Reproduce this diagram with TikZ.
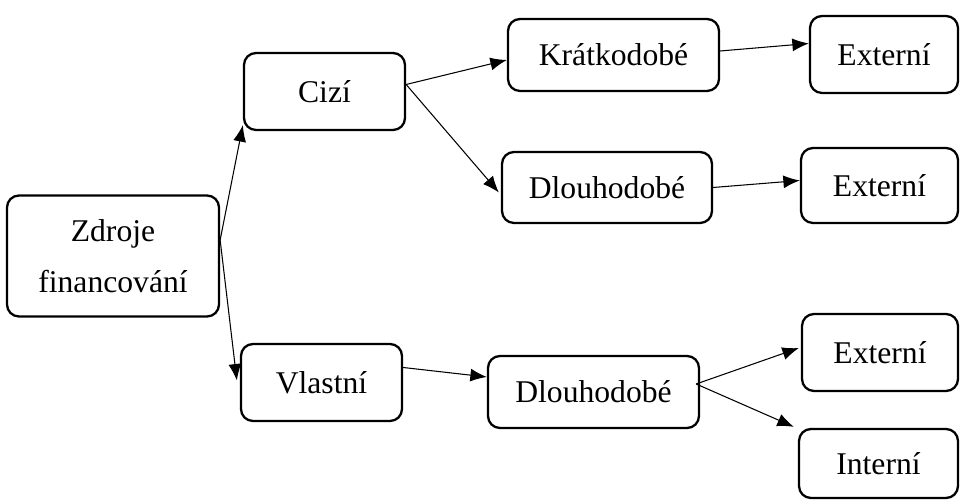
\documentclass[tikz,border=0pt]{standalone}
\usepackage{fontspec}
\setmainfont{Liberation Serif}
\usetikzlibrary{arrows.meta}

\begin{document}
\begin{tikzpicture}[->,>={Latex[length=0.33cm,width=0.26cm]},line width=0.6pt,
    font=\fontsize{18}{29}\selectfont,
    box/.style={draw,line width=1.3pt,rounded corners=0.24cm,align=center,inner sep=0pt}]
            \useasboundingbox (0,0) rectangle (19.2,10);
            \node[box,minimum width=4.24cm,minimum height=2.42cm] (zdroje) at (2.26,4.88) {Zdroje\\financování};
            \node[box,minimum width=3.22cm,minimum height=1.54cm] (cizi) at (6.49,8.17) {Cizí};
            \node[box,minimum width=3.22cm,minimum height=1.54cm] (vlastni) at (6.43,2.35) {Vlastní};
            \node[box,minimum width=4.22cm,minimum height=1.44cm] (kratko) at (12.27,8.9) {Krátkodobé};
            \node[box,minimum width=4.2cm,minimum height=1.42cm] (dlouhoA) at (12.14,6.25) {Dlouhodobé};
            \node[box,minimum width=4.22cm,minimum height=1.44cm] (dlouhoB) at (11.87,2.16) {Dlouhodobé};
            \node[box,minimum width=2.96cm,minimum height=1.54cm] (extA) at (17.68,8.91) {Externí};
            \node[box,minimum width=3.14cm,minimum height=1.5cm] (extB) at (17.59,6.29) {Externí};
            \node[box,minimum width=3.12cm,minimum height=1.54cm] (extC) at (17.6,2.95) {Externí};
            \node[box,minimum width=3.18cm,minimum height=1.38cm] (intern) at (17.57,0.73) {Interní};
            \draw ([yshift=0.32cm]zdroje.east)--([yshift=0.12cm]cizi.south west);
            \draw ([yshift=0.32cm]zdroje.east)--([xshift=-0.06cm,yshift=0.04cm]vlastni.west);
            \draw ([yshift=0.14cm]cizi.east)--([yshift=-0.1cm]kratko.west);
            \draw ([yshift=0.14cm]cizi.east)--([xshift=-0.04cm,yshift=-0.1cm]dlouhoA.west);
            \draw ([yshift=0.08cm]kratko.east)--([yshift=0.22cm]extA.west);
            \draw (dlouhoA.east)--([yshift=0.1cm]extB.west);
            \draw ([yshift=0.3cm]vlastni.east)--([yshift=0.3cm]dlouhoB.west);
            \draw ([xshift=-0.08cm,yshift=0.16cm]dlouhoB.east)--([xshift=-0.04cm,yshift=0.09cm]extC.west);
            \draw ([xshift=-0.08cm,yshift=0.16cm]dlouhoB.east)--([xshift=-0.08cm,yshift=0.02cm]intern.north west);
        \end{tikzpicture}
\end{document}
